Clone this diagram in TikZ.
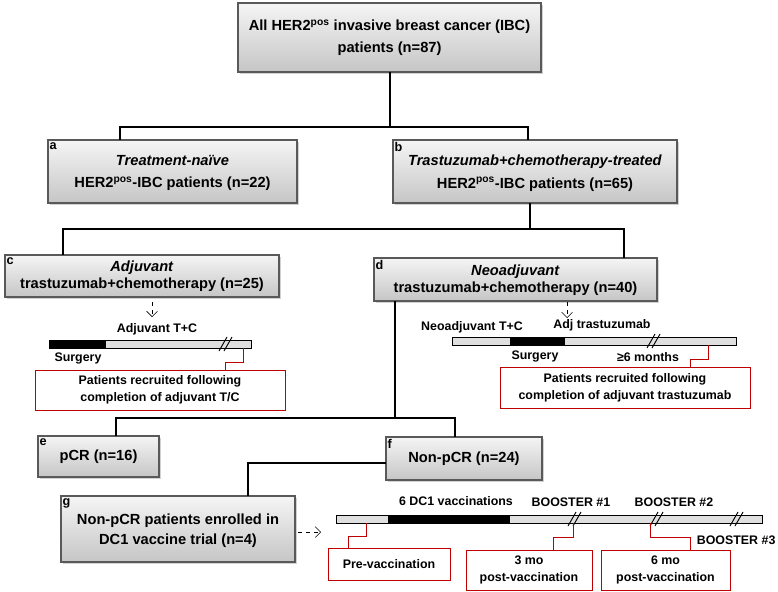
\documentclass[tikz,border=0pt]{standalone}
\usepackage{fontspec}
\setmainfont{Liberation Sans}
\usetikzlibrary{shadows,arrows.meta}
\begin{document}
\begin{tikzpicture}[x=0.75pt,y=-0.75pt,
 box/.style={draw=gray!70!black,line width=0.8pt,top color=gray!8,bottom color=gray!45,drop shadow={shadow xshift=1.5pt,shadow yshift=-1.5pt,fill=gray!70}},
 rbox/.style={draw=red!75!black,line width=0.6pt,fill=white},
 tl/.style={font=\bfseries\fontsize{11}{13}\selectfont,align=center},
 sl/.style={font=\bfseries\fontsize{9.3}{11}\selectfont,align=center},
 lt/.style={font=\bfseries\fontsize{9.5}{10}\selectfont,anchor=north west,inner sep=1pt},
 con/.style={line width=1.6pt},
 rcon/.style={draw=red!75!black,line width=0.6pt},
 bar/.style={draw=black,line width=0.6pt,fill=gray!25},
 hash/.style={line width=0.7pt}]
\useasboundingbox (0,0) rectangle (778,592);
% boxes
\draw[box] (238,3) rectangle (541,72);
\node[tl] (top) at (389.5,37.5) {All HER2\textsuperscript{pos} invasive breast cancer (IBC)\\[3pt]patients (n=87)};
\draw[box] (48,140) rectangle (297,203);
\node[tl] (a) at (172.5,173) {\textit{Treatment-naïve}\\[4pt]HER2\textsuperscript{pos}-IBC patients (n=22)};
\node[lt] at (48,141) {a};
\draw[box] (393,140) rectangle (677,203);
\node[tl] (b) at (535,173) {\textit{Trastuzumab+chemotherapy-treated}\\[4pt]HER2\textsuperscript{pos}-IBC patients (n=65)};
\node[lt] at (393,141) {b};
\draw[box] (5,255) rectangle (279,297);
\node[tl] (c) at (142,276) {\textit{Adjuvant}\\trastuzumab+chemotherapy (n=25)};
\node[lt] at (5,256) {c};
\draw[box] (374,258) rectangle (657,301);
\node[tl] (d) at (515.5,280) {\textit{Neoadjuvant}\\trastuzumab+chemotherapy (n=40)};
\node[lt] at (374,259) {d};
\draw[box] (38,436) rectangle (159,477);
\node[tl] (e) at (98.5,457) {pCR (n=16)};
\node[lt] at (38,437) {e};
\draw[box] (386,437) rectangle (542,480);
\node[tl] (f) at (464,459) {Non-pCR (n=24)};
\node[lt] at (386,438) {f};
\draw[box] (61,496) rectangle (295,562);
\node[tl] (g) at (178,531) {Non-pCR patients enrolled in\\[2pt]DC1 vaccine trial (n=4)};
\node[lt] at (61,497) {g};
% connectors
\coordinate (j1) at (390,127);
\draw[con] (390,72) -- (j1);
\draw[con] (120,140) -- (120,127) -- (528,127) -- (528,140);
\draw[con] (530,203) -- (530,229);
\draw[con] (63,255) -- (63,229) -- (624,229) -- (624,258);
\draw[con] (395,301) -- (395,418);
\draw[con] (116,436) -- (116,418) -- (455,418) -- (455,437);
\draw[con] (386,463) -- (248,463) -- (248,496);
\draw[dashed,-{Straight Barb[length=4pt]}] (152,302) -- (152,317);
\draw[dashed,-{Straight Barb[length=4pt]}] (567,302) -- (567,318);
\draw[dashed,-{Straight Barb[length=4pt]}] (298,532) -- (321,532);
% timeline c
\draw[bar] (49,340) rectangle (251,348);
\fill (49,340) rectangle (106,348);
\draw[hash] (219,351) -- (227,337) (224,351) -- (232,337);
\node[sl] at (157,329) {Adjuvant T+C};
\node[sl] at (78,358) {Surgery};
\draw[rcon] (243,348) -- (243,362) -- (225,362) -- (225,370);
\draw[rbox] (35,370) rectangle (285,410);
\node[sl] at (160,390) {Patients recruited following\\[2pt]completion of adjuvant T/C};
% timeline d
\draw[bar] (452,337) rectangle (736,345);
\fill (510,337) rectangle (565,345);
\draw[hash] (647,348) -- (655,334) (652,348) -- (660,334);
\node[sl] at (472,327) {Neoadjuvant T+C};
\node[sl] at (602,325) {Adj trastuzumab};
\node[sl] at (535,356) {Surgery};
\node[sl] at (648,357) {≥6 months};
\draw[rcon] (708,345) -- (708,359) -- (690,359) -- (690,367);
\draw[rbox] (500,367) rectangle (750,408);
\node[sl] at (625,387.5) {Patients recruited following\\[2pt]completion of adjuvant trastuzumab};
% timeline g
\draw[bar] (336,515) rectangle (762,523);
\fill (388,515) rectangle (510,523);
\draw[hash] (568,526) -- (576,512) (573,526) -- (581,512);
\draw[hash] (650,526) -- (658,512) (655,526) -- (663,512);
\draw[hash] (730,526) -- (738,512) (735,526) -- (743,512);
\node[sl] at (456,501) {6 DC1 vaccinations};
\node[sl] at (571,502) {BOOSTER \#1};
\node[sl] at (674,502) {BOOSTER \#2};
\node[sl,anchor=east,inner sep=1pt] at (777,540) {BOOSTER \#3};
\draw[rcon] (366,523) -- (366,536) -- (348,536) -- (348,548);
\draw[rbox] (328,548) rectangle (450,580);
\node[sl] at (389,564) {Pre-vaccination};
\draw[rcon] (573,523) -- (573,537) -- (553,537) -- (553,550);
\draw[rbox] (466,550) rectangle (592,590);
\node[sl] at (529,570) {3 mo\\[2pt]post-vaccination};
\draw[rcon] (650,523) -- (650,537) -- (690,537) -- (690,550);
\draw[rbox] (601,550) rectangle (730,590);
\node[sl] at (665.5,570) {6 mo\\[2pt]post-vaccination};
\end{tikzpicture}
\end{document}
